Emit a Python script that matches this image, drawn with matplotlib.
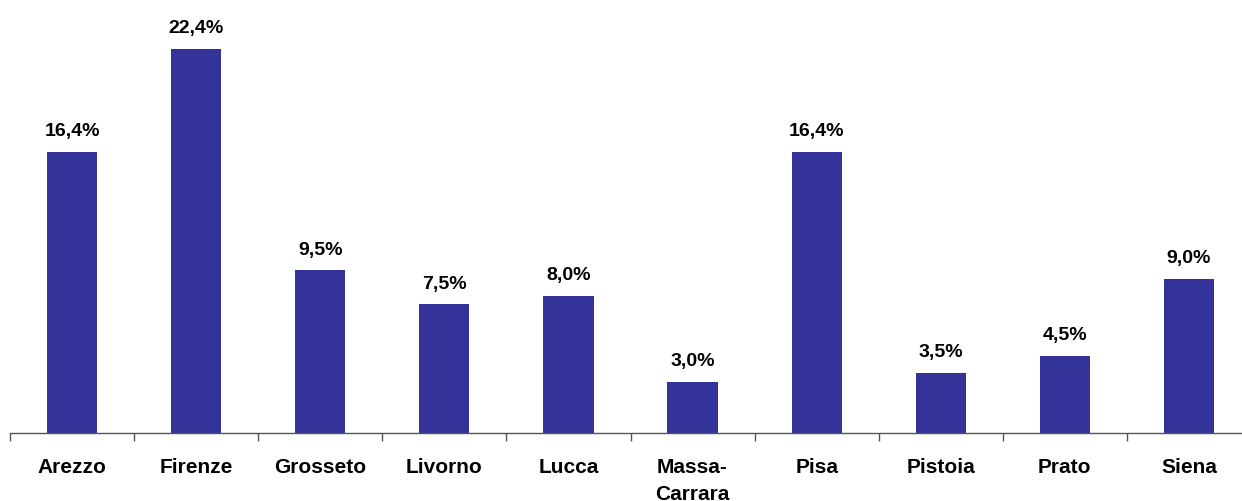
import numpy as np
import matplotlib
matplotlib.use("Agg")
import matplotlib.pyplot as plt

plt.rcParams['font.family'] = ['Liberation Sans', 'DejaVu Sans']

province = ["Arezzo", "Firenze", "Grosseto", "Livorno", "Lucca",
            "Massa-\nCarrara", "Pisa", "Pistoia", "Prato", "Siena"]
quota = [16.4, 22.4, 9.5, 7.5, 8.0, 3.0, 16.4, 3.5, 4.5, 9.0]
etichette = ["16,4%", "22,4%", "9,5%", "7,5%", "8,0%",
             "3,0%", "16,4%", "3,5%", "4,5%", "9,0%"]

fig = plt.figure(figsize=(12.42, 5.02), dpi=100)
ax = fig.add_axes([10/1242, 68/502, 1241/1242, 434/502])

x = np.arange(len(province))
bars = ax.bar(x, quota, width=0.405, color="#333399")

for b, lab in zip(bars, etichette):
    ax.annotate(lab, (b.get_x() + b.get_width()/2, b.get_height()),
                xytext=(0, 9), textcoords="offset points",
                ha="center", va="bottom", fontsize=14, fontweight="bold")

ax.set_xlim(-0.5, len(province) - 0.5)
ax.set_ylim(0, 22.4 * 434 / 384)

ax.set_xticks(x)
ax.set_xticklabels(province, fontsize=15, fontweight="bold", linespacing=1.55)
ax.tick_params(axis="x", which="major", length=0, pad=17)
ax.set_xticks(np.arange(-0.5, len(province)), minor=True)
ax.tick_params(axis="x", which="minor", length=6, color="#555555", width=1)
ax.set_yticks([])

for s in ["top", "right", "left"]:
    ax.spines[s].set_visible(False)
ax.spines["bottom"].set_color("#555555")
ax.spines["bottom"].set_linewidth(1)

fig.savefig("out.png", dpi=100)
